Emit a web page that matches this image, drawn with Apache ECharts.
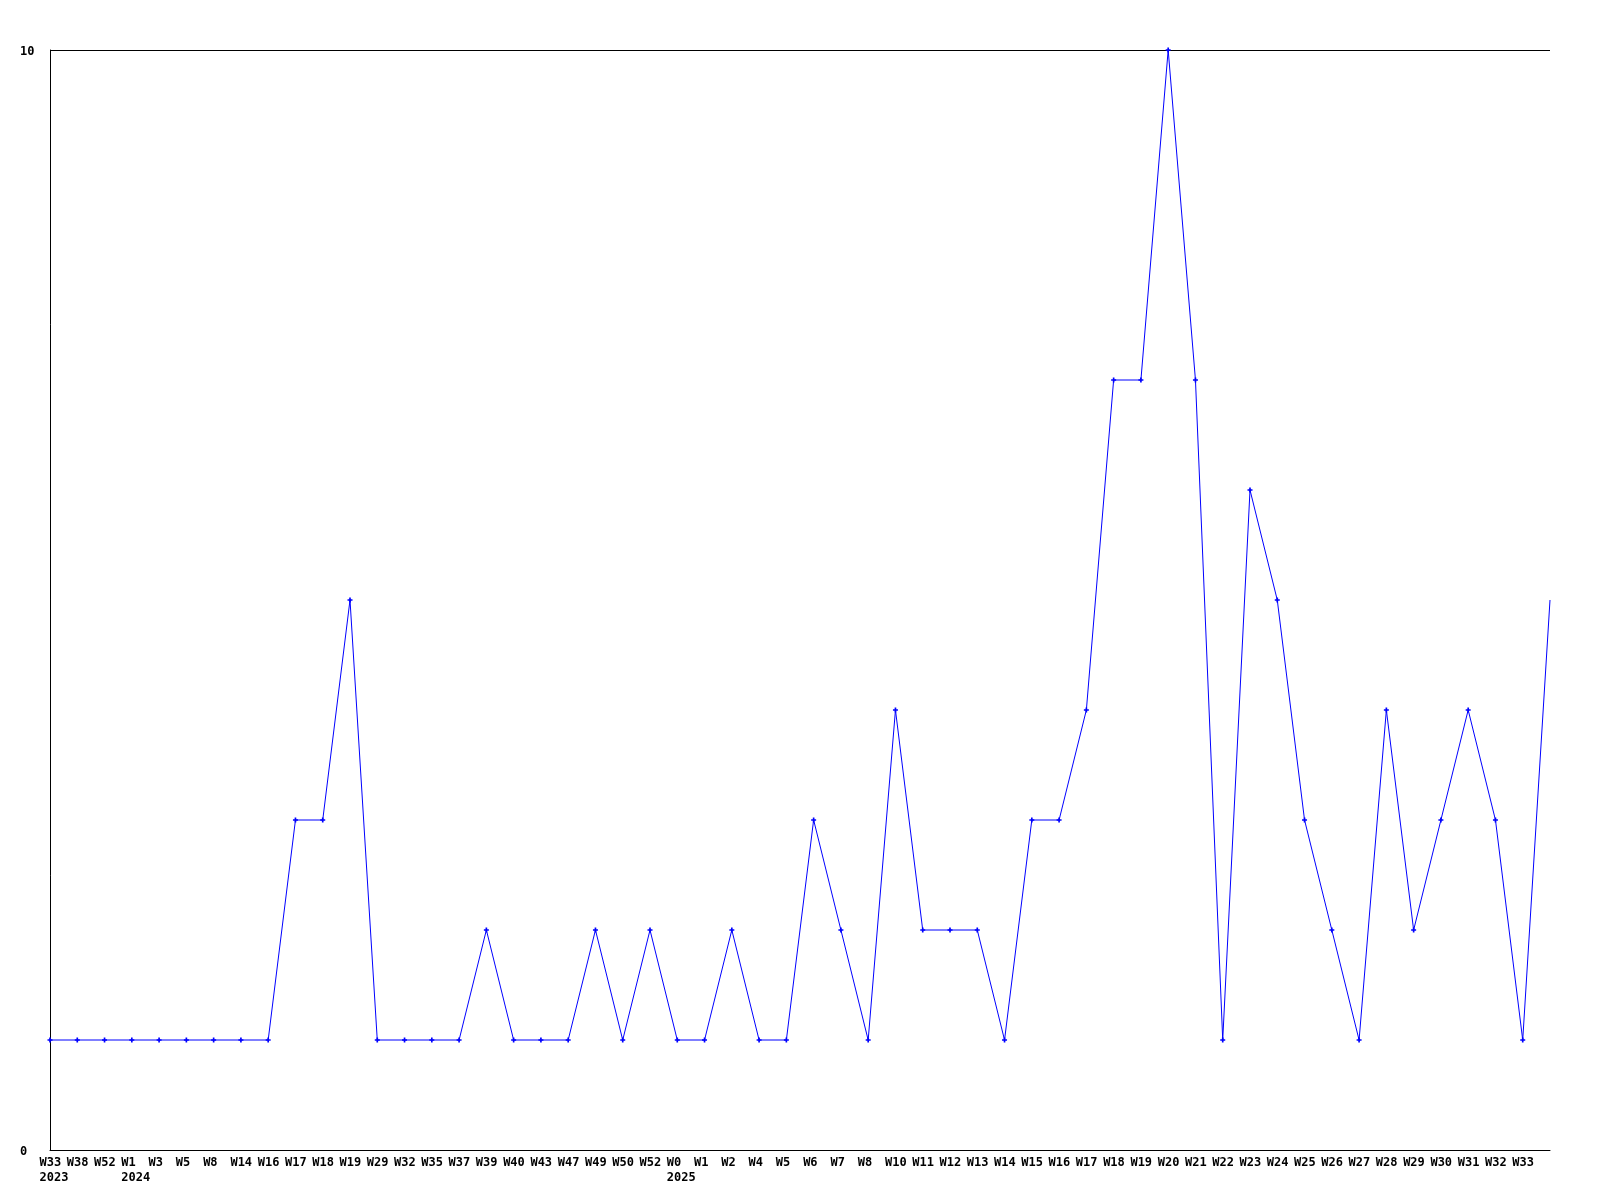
<!DOCTYPE html>
<html>
<head>
<meta charset="utf-8">
<script src="https://cdn.jsdelivr.net/npm/echarts@6/dist/echarts.min.js"></script>
<style>html,body{margin:0;padding:0;background:#fff;}#c{width:1600px;height:1200px;}</style>
</head>
<body>
<div id="c"></div>
<script>
const weeks = ['W33','W38','W52','W1','W3','W5','W8','W14','W16','W17','W18','W19','W29','W32','W35','W37','W39','W40','W43','W47','W49','W50','W52','W0','W1','W2','W4','W5','W6','W7','W8','W10','W11','W12','W13','W14','W15','W16','W17','W18','W19','W20','W21','W22','W23','W24','W25','W26','W27','W28','W29','W30','W31','W32','W33',''];
const years = ['2023','','','2024','','','','','','','','','','','','','','','','','','','','2025','','','','','','','','','','','','','','','','','','','','','','','','','','','','','','','',''];
const values = [1,1,1,1,1,1,1,1,1,3,3,5,1,1,1,1,2,1,1,1,2,1,2,1,1,2,1,1,3,2,1,4,2,2,2,1,3,3,4,7,7,10,7,1,6,5,3,2,1,4,2,3,4,3,1,5];
const yTicks = [0, 10];

const categories = weeks.map((w, i) => years[i] ? w + '\n' + years[i] : w);
const font = {fontFamily: 'DejaVu Sans Mono', fontWeight: 'bold', fontSize: 12, color: '#000'};
const seriesData = values.map((v, i) => i === values.length - 1 ? {value: v, symbol: 'none'} : v);

const chart = echarts.init(document.getElementById('c'), null, {renderer: 'canvas'});
chart.setOption({
  animation: false,
  backgroundColor: '#fff',
  grid: {left: 50, right: 50, top: 50, bottom: 50, containLabel: false},
  xAxis: {
    type: 'category',
    data: categories,
    boundaryGap: false,
    axisLine: {show: true, lineStyle: {color: '#000', width: 1}},
    axisTick: {show: false},
    splitLine: {show: false},
    axisLabel: {
      interval: 0,
      margin: 5,
      align: 'center',
      lineHeight: 15,
      ...font,
      formatter: v => v ? v.split('\n').map(s => '{a|' + s + '}').join('\n') : '',
      rich: {a: {width: 21, align: 'left', lineHeight: 15, ...font}}
    }
  },
  yAxis: {
    type: 'value',
    min: yTicks[0],
    max: yTicks[1],
    interval: yTicks[1] - yTicks[0],
    axisLine: {show: true, lineStyle: {color: '#000', width: 1}},
    axisTick: {show: false},
    splitLine: {show: true, lineStyle: {color: '#000', width: 1, type: 'solid'}},
    axisLabel: {
      align: 'left', margin: 30, ...font,
      formatter: v => '{b|' + v + '}',
      rich: {b: {padding: [4, 0, 0, 0], ...font}}
    }
  },
  series: [{
    type: 'line',
    data: seriesData,
    symbol: 'path://M1,0H2V1H3V2H2V3H1V2H0V1H1Z',
    symbolSize: 5,
    showAllSymbol: true,
    lineStyle: {color: '#0000ff', width: 1},
    itemStyle: {color: '#0000ff'},
    clip: true
  }]
});
</script>
</body>
</html>
